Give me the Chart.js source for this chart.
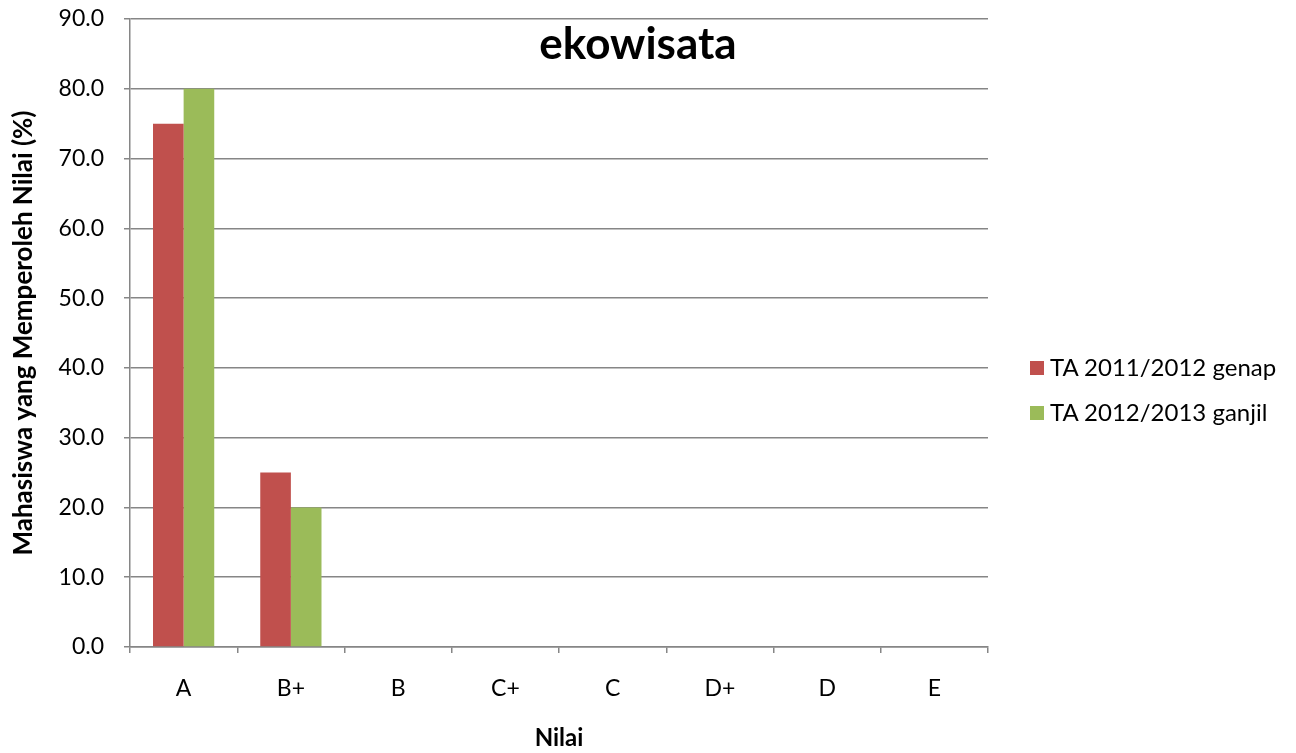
<!DOCTYPE html>
<html>
<head>
<meta charset="utf-8">
<script src="https://cdn.jsdelivr.net/npm/chart.js@4.4.0/dist/chart.umd.min.js"></script>
<style>
  body { margin: 0; background: #fff; }
  #wrap { position: relative; width: 1296px; height: 753px; }
  #legend { position: absolute; left: 1030px; top: 352px; font-family: Lato, sans-serif; font-size: 24px; color: #000; }
  #legend div { height: 45px; display: flex; align-items: flex-start; white-space: nowrap; }
  #legend span.box { display: inline-block; width: 14px; height: 14px; margin: 9px 6px 0 0; }
</style>
</head>
<body>
<div id="wrap">
  <canvas id="chart" width="1296" height="753"></canvas>
  <div id="legend"></div>
</div>
<script>
const categories = ['A', 'B+', 'B', 'C+', 'C', 'D+', 'D', 'E'];
const seriesNames = ['TA 2011/2012 genap', 'TA 2012/2013 ganjil'];
const genap2011 = [75, 25, 0, 0, 0, 0, 0, 0];
const ganjil2012 = [80, 20, 0, 0, 0, 0, 0, 0];
const colors = ['#C0504D', '#9BBB59'];

const gridColor = '#868686';
const font = 'Lato, "Open Sans", sans-serif';

const titlePlugin = {
  id: 'insideTitle',
  afterDraw(chart) {
    const ctx = chart.ctx;
    ctx.save();
    ctx.font = 'bold 44px ' + font;
    ctx.fillStyle = '#000';
    ctx.textAlign = 'center';
    ctx.textBaseline = 'middle';
    ctx.fillText('ekowisata', chart.width / 2 - 10, chart.chartArea.top + 26);
    ctx.restore();
  }
};

const chart = new Chart(document.getElementById('chart'), {
  type: 'bar',
  data: {
    labels: categories,
    datasets: [
      { label: seriesNames[0], data: genap2011, backgroundColor: colors[0] },
      { label: seriesNames[1], data: ganjil2012, backgroundColor: colors[1] }
    ]
  },
  options: {
    responsive: false,
    animation: false,
    layout: { padding: { top: 19, right: 308, left: 0, bottom: 0 } },
    plugins: {
      legend: { display: false },
      tooltip: { enabled: false }
    },
    datasets: { bar: { categoryPercentage: 0.571, barPercentage: 1 } },
    scales: {
      x: {
        afterFit(scale) { scale.height = 106; },
        grid: { offset: true, drawOnChartArea: false, drawTicks: true, tickLength: 6, color: gridColor, lineWidth: 1.5 },
        border: { color: gridColor, width: 1.5 },
        ticks: { color: '#000', font: { family: font, size: 23 }, padding: 22 },
        title: { display: true, text: 'Nilai', color: '#000', font: { family: font, size: 24, weight: 'bold' }, padding: { top: 0, bottom: 0 } }
      },
      y: {
        min: 0,
        max: 90,
        afterFit(scale) {
          scale.width = 130;
          // tick padding otherwise pushes the plot top down
          scale.paddingTop = 0;
          scale.paddingBottom = 0;
        },
        grid: { color: gridColor, lineWidth: 1.5, tickLength: 6 },
        border: { color: gridColor, width: 1.5 },
        ticks: {
          stepSize: 10,
          color: '#000',
          font: { family: font, size: 23 },
          padding: 20,
          callback: v => v.toFixed(1)
        },
        title: { display: true, text: 'Mahasiswa yang Memperoleh Nilai (%)', color: '#000', font: { family: font, size: 26, weight: 'bold' }, padding: { top: 8, bottom: 0 } }
      }
    }
  },
  plugins: [titlePlugin]
});

const legendEl = document.getElementById('legend');
chart.data.datasets.forEach(ds => {
  const row = document.createElement('div');
  const box = document.createElement('span');
  box.className = 'box';
  box.style.background = ds.backgroundColor;
  row.appendChild(box);
  row.appendChild(document.createTextNode(ds.label));
  legendEl.appendChild(row);
});
</script>
</body>
</html>
